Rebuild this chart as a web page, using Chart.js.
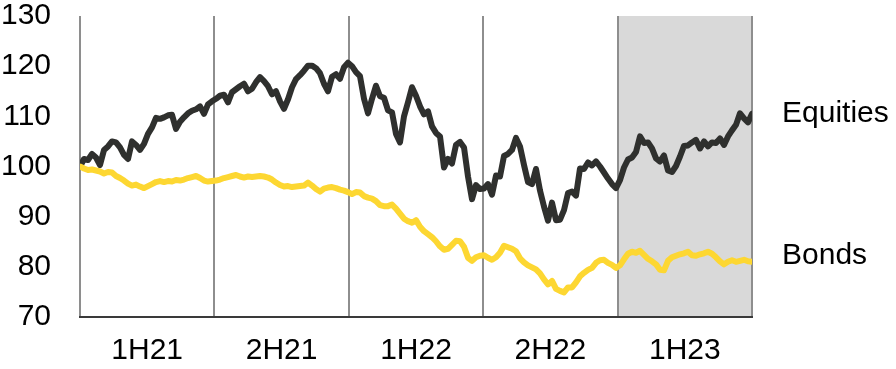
<!DOCTYPE html>
<html>
<head>
<meta charset="utf-8">
<script src="https://cdn.jsdelivr.net/npm/chart.js@4/dist/chart.umd.min.js"></script>
<style>
  html, body { margin: 0; padding: 0; background: #ffffff; }
  #wrap { width: 896px; height: 369px; }
</style>
</head>
<body>
<div id="wrap"><canvas id="chart" width="896" height="369"></canvas></div>
<script>
// Half-year periods shown along the x axis
const periods = ['1H21', '2H21', '1H22', '2H22', '1H23'];
const shadedPeriods = ['1H23'];

// Y axis ticks (index level, start = 100)
const yTicks = [70, 80, 90, 100, 110, 120, 130];

// Indexed performance, evenly spaced observations over the whole window
const equities = [
  100,101.5,101.3,102.5,101.8,100.3,103.3,104,105,104.8,
  103.8,102.3,101.5,105,104.3,103.3,104.5,106.5,107.8,109.7,
  109.5,109.8,110.2,110.3,107.5,108.9,109.8,110.6,111.1,111.4,
  112,110.5,112.4,113,113.5,114.1,114.3,112.8,114.8,115.4,
  116,116.5,115,115.5,116.8,117.8,117,116,114.4,115,
  113,111.5,113.4,115.8,117.4,118.2,119.1,120.1,120.1,119.6,
  118.6,116.5,115,117.9,118.4,117.5,119.8,120.7,120,118.8,
  118,113.5,110.6,113.5,116.1,114,113.7,111.2,110.8,106.5,
  104.8,110,112.8,115.8,114.1,112,110.4,111,108,106.7,
  106,99.8,101.5,100.6,104.3,104.9,103.8,98,93.5,96.3,
  95.5,95.6,96.5,94.4,98.2,98,102.1,102.5,103.3,105.7,
  104,100.3,96.9,96.5,99.5,95.2,92,89.2,92.8,89.3,
  89.4,91.3,94.7,95,94.2,99.6,99.5,100.8,100.2,101,
  100,98.8,97.6,96.5,95.7,97.3,99.8,101.4,101.8,102.9,
  106,104.7,104.8,103.6,101.6,101,102.2,99.2,98.9,100.1,
  102,104.1,104.2,104.8,105.3,103.6,105,104,104.8,104.7,
  105.6,104.3,106,107.2,108.3,110.6,109.6,108.8,110.5
];
const bonds = [
  100,99.6,99.3,99.4,99.2,99,98.6,98.9,98.8,98.1,
  97.7,97.2,96.6,96.2,96.4,96,95.7,96.1,96.5,96.9,
  97.1,96.9,97.1,97,97.3,97.2,97.4,97.7,97.9,98.1,
  97.7,97.2,97,97.1,97.2,97.4,97.7,97.9,98.1,98.3,
  98,97.8,98,97.9,98,98.1,98,97.8,97.4,96.8,
  96.3,96,96.1,95.9,96,96.1,96.2,96.8,96.2,95.5,
  95,95.6,95.8,95.9,95.7,95.4,95.2,94.9,94.5,94.9,
  94.8,94.1,93.8,93.6,93.1,92.3,92.1,92.1,92.4,91.6,
  90.6,89.6,89.1,88.8,89.3,88,87.1,86.5,85.9,85.1,
  84.1,83.4,83.6,84.4,85.2,85.1,84,81.8,81.2,81.9,
  82.2,82.3,81.8,81.4,81.9,82.8,84.2,83.9,83.6,83.1,
  81.7,80.9,80.3,79.9,79.5,78.7,77.5,76.5,77.2,75.6,
  75.2,74.9,75.9,75.9,76.9,78.1,78.8,79.4,79.8,80.8,
  81.3,81.4,80.8,80.4,79.8,80.3,81.5,82.6,83,82.8,
  83.2,82.4,81.6,81.1,80.5,79.4,79.3,81.2,81.9,82.2,
  82.5,82.7,83,82.3,82.2,82.5,82.7,83,82.6,81.9,
  81.1,80.5,81,81.3,81,81.2,81.4,81.1,81
];

const seriesNames = ['Equities', 'Bonds'];

const lastIndex = equities.length - 1;
const periodSpan = lastIndex / periods.length;
const toPoints = arr => arr.map((v, i) => ({ x: i, y: v }));

const FONT = '"Liberation Sans", Arial, sans-serif';
const GRID_GREY = '#8e8e8e';

// Shaded periods and half-year separators, drawn beneath the lines
const periodBands = {
  id: 'periodBands',
  beforeDatasetsDraw(chart) {
    const { ctx, chartArea, scales } = chart;
    const xs = scales.x;
    ctx.save();
    periods.forEach((p, i) => {
      if (shadedPeriods.includes(p)) {
        const x0 = xs.getPixelForValue(i * periodSpan);
        const x1 = xs.getPixelForValue((i + 1) * periodSpan);
        ctx.fillStyle = '#d9d9d9';
        ctx.fillRect(x0, chartArea.top, x1 - x0, chartArea.bottom - chartArea.top);
      }
    });
    ctx.strokeStyle = GRID_GREY;
    ctx.lineWidth = 2;
    for (let i = 0; i <= periods.length; i++) {
      const x = Math.round(xs.getPixelForValue(i * periodSpan));
      ctx.beginPath();
      ctx.moveTo(x, chartArea.top);
      ctx.lineTo(x, chartArea.bottom);
      ctx.stroke();
    }
    // bottom axis line
    ctx.strokeStyle = '#3a3a3a';
    ctx.lineWidth = 2;
    ctx.beginPath();
    ctx.moveTo(chartArea.left - 1, chartArea.bottom);
    ctx.lineTo(chartArea.right + 1, chartArea.bottom);
    ctx.stroke();
    ctx.restore();
  }
};

// Series names written at the right end of each line
const endLabels = {
  id: 'endLabels',
  afterDatasetsDraw(chart) {
    const { ctx, chartArea, scales } = chart;
    ctx.save();
    ctx.font = '30px ' + FONT;
    ctx.fillStyle = '#000000';
    ctx.textAlign = 'left';
    ctx.textBaseline = 'middle';
    const nudges = { Equities: 0, Bonds: -6 };
    chart.data.datasets.forEach(ds => {
      const last = ds.data[ds.data.length - 1];
      const y = scales.y.getPixelForValue(last.y) + nudges[ds.label];
      ctx.fillText(ds.label, chartArea.right + 30, y);
    });
    ctx.restore();
  }
};

new Chart(document.getElementById('chart'), {
  type: 'line',
  data: {
    datasets: [
      {
        label: seriesNames[1],
        data: toPoints(bonds),
        borderColor: '#fdd732',
        borderWidth: 6,
        pointRadius: 0,
        tension: 0,
        borderJoinStyle: 'round',
        borderCapStyle: 'round',
        order: 0
      },
      {
        label: seriesNames[0],
        data: toPoints(equities),
        borderColor: '#2f302e',
        borderWidth: 6,
        pointRadius: 0,
        tension: 0,
        borderJoinStyle: 'round',
        borderCapStyle: 'round',
        order: 1
      }
    ]
  },
  options: {
    responsive: false,
    animation: false,
    devicePixelRatio: 1,
    layout: { padding: { top: 16, right: 144, bottom: 0, left: 0 } },
    plugins: { legend: { display: false }, tooltip: { enabled: false } },
    scales: {
      x: {
        type: 'linear',
        min: 0,
        max: lastIndex,
        grid: { display: false, drawTicks: false },
        border: { display: false },
        afterBuildTicks(scale) {
          scale.ticks = periods.map((p, i) => ({ value: (i + 0.5) * periodSpan }));
        },
        afterFit(scale) {
          scale.height = 52;
          scale.paddingLeft = 0;
          scale.paddingRight = 0;
        },
        ticks: {
          padding: 19,
          maxRotation: 0,
          autoSkip: false,
          color: '#000000',
          font: { family: FONT, size: 30, lineHeight: 1 },
          callback: (v, i) => periods[i]
        }
      },
      y: {
        min: 70,
        max: 130,
        grid: { display: false, drawTicks: false },
        border: { display: false },
        afterBuildTicks(scale) {
          scale.ticks = yTicks.map(v => ({ value: v }));
        },
        afterFit(scale) {
          scale.width = 80;
          scale.paddingTop = 0;
          scale.paddingBottom = 0;
        },
        ticks: {
          padding: 29,
          color: '#000000',
          font: { family: FONT, size: 30, lineHeight: 1 }
        }
      }
    }
  },
  plugins: [periodBands, endLabels]
});
</script>
</body>
</html>
